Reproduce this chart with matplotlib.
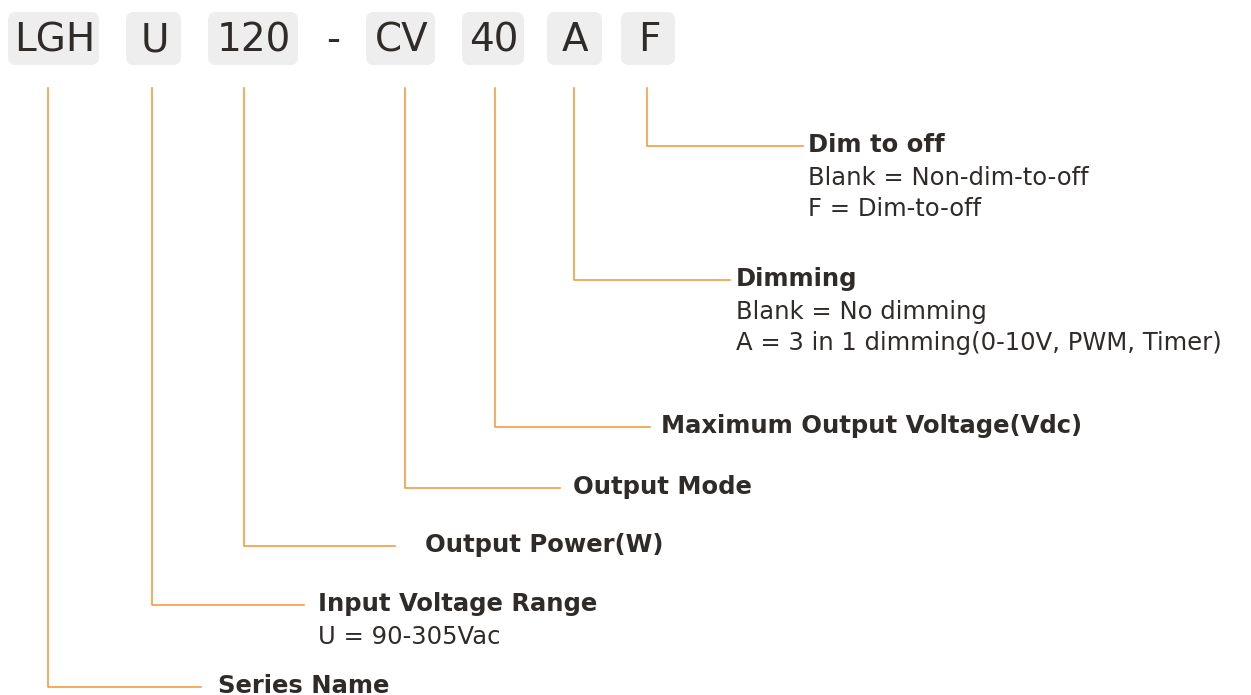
import matplotlib
matplotlib.use('Agg')
from matplotlib import pyplot as plt
from matplotlib.patches import FancyBboxPatch

# model code parts
codes = ['LGH', 'U', '120', 'CV', '40', 'A', 'F']
titles = ['Series Name', 'Input Voltage Range', 'Output Power(W)', 'Output Mode',
          'Maximum Output Voltage(Vdc)', 'Dimming', 'Dim to off']
details = [[], ['U = 90-305Vac'], [], [], [],
           ['Blank = No dimming', 'A = 3 in 1 dimming(0-10V, PWM, Timer)'],
           ['Blank = Non-dim-to-off', 'F = Dim-to-off']]

# layout (pixels)
box_left = [8, 126, 208, 366, 462, 547, 621]
box_right = [99, 181, 298, 435, 524, 602, 675]
stem_x = [48, 152, 244, 405, 495, 574, 647]
branch_y = [687, 605, 546, 488, 427, 280, 146]
branch_end = [201, 304, 395, 560, 650, 730, 803]
label_x = [218, 318, 425, 573, 661, 736, 808]

orange = '#f39433'
dark = '#2f2b29'
plt.rcParams['font.family'] = ['DejaVu Sans']

fig = plt.figure(figsize=(12.51, 6.95), dpi=100)
ax = fig.add_axes([0, 0, 1, 1])
ax.set_xlim(0, 1251)
ax.set_ylim(695, 0)
ax.axis('off')

for i in range(len(codes)):
    l, r = box_left[i], box_right[i]
    ax.add_patch(FancyBboxPatch((l + 8, 20), r - l - 16, 37,
                                boxstyle='round,pad=8', fc='#eeeeee', ec='none'))
    ax.text((l + r) / 2 + 1, 40, codes[i], fontsize=28, color=dark,
            ha='center', va='center')
    # connector
    ax.plot([stem_x[i], stem_x[i], branch_end[i]], [88, branch_y[i], branch_y[i]],
            color=orange, lw=1.1)
    ax.text(label_x[i], branch_y[i] - 1, titles[i], fontsize=17.5, fontweight='bold',
            color=dark, ha='left', va='center')
    for k, line in enumerate(details[i]):
        ax.text(label_x[i], branch_y[i] + 32 + 31 * k, line, fontsize=17.5,
                color=dark, ha='left', va='center')

ax.text(333, 40, '-', fontsize=28, color=dark, ha='center', va='center')

plt.savefig('out.png', dpi=100)
